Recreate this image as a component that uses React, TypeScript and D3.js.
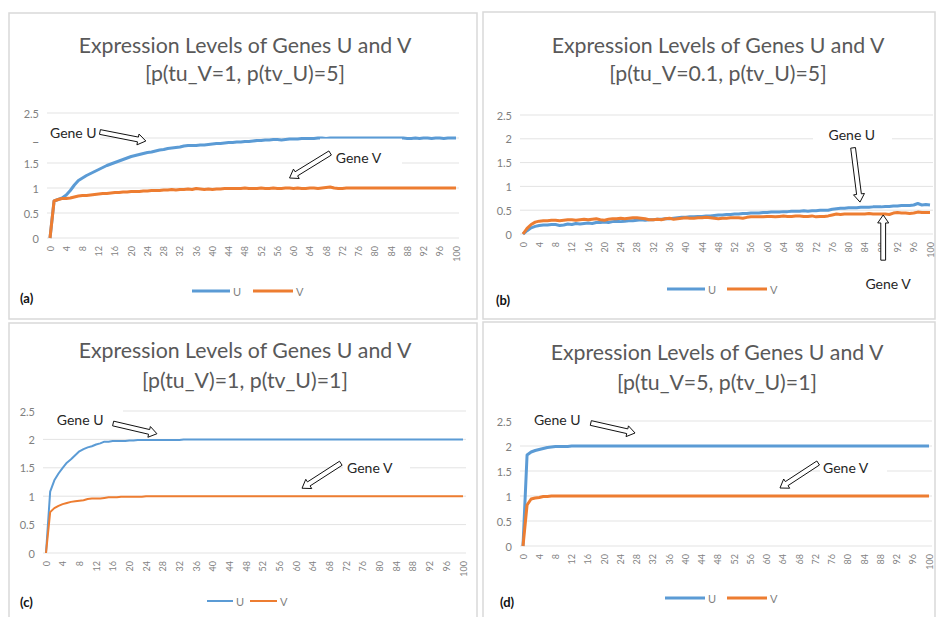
import React from "react";
import * as d3 from "d3";

// ---------- DATA ----------
const TICK_LABELS = ["0","4","8","12","16","20","24","28","32","36","40","44","48","52","56","60","64","68","72","76","80","84","88","92","96","100"];
const Y_TICKS = [0, 0.5, 1, 1.5, 2, 2.5];
const Y_TICK_LABELS = ["0", "0.5", "1", "1.5", "2", "2.5"];
const SERIES_NAMES = ["U", "V"];

const TITLE_LINE1 = "Expression Levels of Genes U and V";
const SUBTITLES = ["[p(tu_V=1, p(tv_U)=5]", "[p(tu_V=0.1, p(tv_U)=5]", "[p(tu_V)=1, p(tv_U)=1]", "[p(tu_V=5, p(tv_U)=1]"];
const PANEL_TAGS = ["(a)", "(b)", "(c)", "(d)"];

const A_U = [
  0, 0.74, 0.77, 0.80, 0.86, 0.95, 1.06, 1.15, 1.20, 1.25,
  1.29, 1.33, 1.37, 1.41, 1.45, 1.48, 1.51, 1.54, 1.57, 1.60,
  1.63, 1.65, 1.67, 1.69, 1.71, 1.72, 1.74, 1.76, 1.77, 1.79,
  1.80, 1.81, 1.82, 1.84, 1.85, 1.85, 1.85, 1.86, 1.86, 1.87,
  1.88, 1.89, 1.89, 1.90, 1.91, 1.91, 1.92, 1.92, 1.93, 1.93,
  1.94, 1.95, 1.95, 1.96, 1.96, 1.97, 1.97, 1.96, 1.97, 1.98,
  1.98, 1.98, 1.99, 1.99, 1.99, 1.99, 2.0, 2.0, 1.99, 2.0,
  2.0, 2.0, 2.0, 2.0, 2.0, 2.0, 2.0, 2.0, 2.0, 2.0,
  2.0, 2.0, 2.0, 2.0, 2.0, 2.0, 2.0, 2.0, 1.99, 1.99,
  2.0, 1.99, 2.0, 2.0, 1.99, 2.0, 2.0, 1.99, 2.0, 2.0,
  2.0,
];
const A_V = [
  0, 0.74, 0.77, 0.79, 0.79, 0.80, 0.82, 0.84, 0.85, 0.85,
  0.86, 0.87, 0.88, 0.89, 0.89, 0.90, 0.91, 0.91, 0.92, 0.92,
  0.93, 0.93, 0.93, 0.94, 0.94, 0.95, 0.95, 0.95, 0.96, 0.96,
  0.97, 0.96, 0.97, 0.97, 0.98, 0.97, 0.99, 0.98, 0.97, 0.98,
  0.97, 0.98, 0.98, 0.99, 0.99, 0.99, 0.99, 0.99, 1.0, 0.99,
  0.99, 0.99, 1.0, 0.99, 0.99, 1.0, 0.99, 0.99, 1.0, 1.0,
  0.99, 1.0, 0.99, 0.99, 1.0, 1.0, 0.99, 1.0, 1.01, 1.02,
  1.0, 0.99, 0.99, 1.0, 1.0, 1.0, 1.0, 1.0, 1.0, 1.0,
  1.0, 1.0, 1.0, 1.0, 1.0, 1.0, 1.0, 1.0, 1.0, 1.0,
  1.0, 1.0, 1.0, 1.0, 1.0, 1.0, 1.0, 1.0, 1.0, 1.0,
  1.0,
];
const B_U = [
  0, 0.07, 0.13, 0.16, 0.18, 0.19, 0.19, 0.20, 0.20, 0.18,
  0.19, 0.21, 0.20, 0.22, 0.21, 0.22, 0.23, 0.22, 0.24, 0.24,
  0.25, 0.24, 0.26, 0.27, 0.26, 0.27, 0.28, 0.28, 0.29, 0.30,
  0.29, 0.30, 0.30, 0.31, 0.31, 0.32, 0.32, 0.33, 0.34, 0.35,
  0.35, 0.36, 0.36, 0.37, 0.37, 0.38, 0.38, 0.39, 0.40, 0.40,
  0.41, 0.41, 0.42, 0.42, 0.43, 0.43, 0.44, 0.44, 0.44, 0.45,
  0.45, 0.46, 0.46, 0.46, 0.47, 0.47, 0.48, 0.48, 0.48, 0.49,
  0.48, 0.49, 0.49, 0.50, 0.50, 0.50, 0.52, 0.53, 0.54, 0.54,
  0.55, 0.55, 0.55, 0.56, 0.56, 0.56, 0.57, 0.57, 0.57, 0.58,
  0.58, 0.59, 0.59, 0.60, 0.60, 0.60, 0.61, 0.64, 0.61, 0.62,
  0.61,
];
const B_V = [
  0, 0.12, 0.20, 0.25, 0.27, 0.28, 0.28, 0.29, 0.29, 0.28,
  0.29, 0.30, 0.30, 0.29, 0.30, 0.31, 0.30, 0.31, 0.32, 0.30,
  0.29, 0.31, 0.32, 0.32, 0.33, 0.32, 0.33, 0.34, 0.34, 0.33,
  0.32, 0.30, 0.30, 0.31, 0.30, 0.32, 0.33, 0.31, 0.32, 0.33,
  0.34, 0.33, 0.33, 0.34, 0.34, 0.35, 0.34, 0.33, 0.32, 0.33,
  0.33, 0.34, 0.34, 0.34, 0.33, 0.35, 0.36, 0.36, 0.36, 0.36,
  0.37, 0.37, 0.36, 0.37, 0.38, 0.37, 0.37, 0.38, 0.38, 0.37,
  0.37, 0.38, 0.36, 0.37, 0.37, 0.38, 0.40, 0.42, 0.41, 0.42,
  0.42, 0.42, 0.42, 0.42, 0.42, 0.43, 0.42, 0.42, 0.42, 0.42,
  0.41, 0.44, 0.45, 0.44, 0.44, 0.43, 0.44, 0.46, 0.45, 0.45,
  0.45,
];
const C_U = [
  0, 1.08, 1.28, 1.40, 1.50, 1.59, 1.65, 1.72, 1.79, 1.83,
  1.86, 1.88, 1.91, 1.93, 1.96, 1.96, 1.97, 1.97, 1.97, 1.97,
  1.98, 1.98, 1.99, 1.99, 1.99, 1.99, 1.99, 1.99, 1.99, 1.99,
  1.99, 1.99, 1.99, 2.0, 2.0, 2.0, 2.0, 2.0, 2.0, 2.0,
  2.0, 2.0, 2.0, 2.0, 2.0, 2.0, 2.0, 2.0, 2.0, 2.0,
  2.0, 2.0, 2.0, 2.0, 2.0, 2.0, 2.0, 2.0, 2.0, 2.0,
  2.0, 2.0, 2.0, 2.0, 2.0, 2.0, 2.0, 2.0, 2.0, 2.0,
  2.0, 2.0, 2.0, 2.0, 2.0, 2.0, 2.0, 2.0, 2.0, 2.0,
  2.0, 2.0, 2.0, 2.0, 2.0, 2.0, 2.0, 2.0, 2.0, 2.0,
  2.0, 2.0, 2.0, 2.0, 2.0, 2.0, 2.0, 2.0, 2.0, 2.0,
  2.0,
];
const C_V = [
  0, 0.72, 0.79, 0.83, 0.86, 0.88, 0.90, 0.91, 0.92, 0.93,
  0.95, 0.96, 0.96, 0.96, 0.97, 0.98, 0.98, 0.98, 0.99, 0.99,
  0.99, 0.99, 0.99, 0.99, 1.0, 1.0, 1.0, 1.0, 1.0, 1.0,
  1.0, 1.0, 1.0, 1.0, 1.0, 1.0, 1.0, 1.0, 1.0, 1.0,
  1.0, 1.0, 1.0, 1.0, 1.0, 1.0, 1.0, 1.0, 1.0, 1.0,
  1.0, 1.0, 1.0, 1.0, 1.0, 1.0, 1.0, 1.0, 1.0, 1.0,
  1.0, 1.0, 1.0, 1.0, 1.0, 1.0, 1.0, 1.0, 1.0, 1.0,
  1.0, 1.0, 1.0, 1.0, 1.0, 1.0, 1.0, 1.0, 1.0, 1.0,
  1.0, 1.0, 1.0, 1.0, 1.0, 1.0, 1.0, 1.0, 1.0, 1.0,
  1.0, 1.0, 1.0, 1.0, 1.0, 1.0, 1.0, 1.0, 1.0, 1.0,
  1.0,
];
const D_U = [
  0, 1.82, 1.88, 1.91, 1.93, 1.95, 1.97, 1.98, 1.99, 1.99,
  1.99, 1.99, 2.0, 2.0, 2.0, 2.0, 2.0, 2.0, 2.0, 2.0,
  2.0, 2.0, 2.0, 2.0, 2.0, 2.0, 2.0, 2.0, 2.0, 2.0,
  2.0, 2.0, 2.0, 2.0, 2.0, 2.0, 2.0, 2.0, 2.0, 2.0,
  2.0, 2.0, 2.0, 2.0, 2.0, 2.0, 2.0, 2.0, 2.0, 2.0,
  2.0, 2.0, 2.0, 2.0, 2.0, 2.0, 2.0, 2.0, 2.0, 2.0,
  2.0, 2.0, 2.0, 2.0, 2.0, 2.0, 2.0, 2.0, 2.0, 2.0,
  2.0, 2.0, 2.0, 2.0, 2.0, 2.0, 2.0, 2.0, 2.0, 2.0,
  2.0, 2.0, 2.0, 2.0, 2.0, 2.0, 2.0, 2.0, 2.0, 2.0,
  2.0, 2.0, 2.0, 2.0, 2.0, 2.0, 2.0, 2.0, 2.0, 2.0,
  2.0,
];
const D_V = [
  0, 0.82, 0.94, 0.96, 0.97, 0.99, 0.99, 1.0, 1.0, 1.0,
  1.0, 1.0, 1.0, 1.0, 1.0, 1.0, 1.0, 1.0, 1.0, 1.0,
  1.0, 1.0, 1.0, 1.0, 1.0, 1.0, 1.0, 1.0, 1.0, 1.0,
  1.0, 1.0, 1.0, 1.0, 1.0, 1.0, 1.0, 1.0, 1.0, 1.0,
  1.0, 1.0, 1.0, 1.0, 1.0, 1.0, 1.0, 1.0, 1.0, 1.0,
  1.0, 1.0, 1.0, 1.0, 1.0, 1.0, 1.0, 1.0, 1.0, 1.0,
  1.0, 1.0, 1.0, 1.0, 1.0, 1.0, 1.0, 1.0, 1.0, 1.0,
  1.0, 1.0, 1.0, 1.0, 1.0, 1.0, 1.0, 1.0, 1.0, 1.0,
  1.0, 1.0, 1.0, 1.0, 1.0, 1.0, 1.0, 1.0, 1.0, 1.0,
  1.0, 1.0, 1.0, 1.0, 1.0, 1.0, 1.0, 1.0, 1.0, 1.0,
  1.0,
];

// annotations in data coordinates: [label, textX, textY, anchor, arrowFromX, arrowFromY, arrowToX, arrowToY]
const ANNOTATIONS_A = [
  ["Gene U", 0, 2.12, "start", 12.3, 2.12, 23.6, 1.94],
  ["Gene V", 70.4, 1.62, "start", 69, 1.7, 59, 1.2],
];
const ANNOTATIONS_B = [
  ["Gene U", 80.8, 2.08, "middle", 81.1, 1.81, 82.8, 0.67],
  ["Gene V", 89.7, -1.03, "middle", 88.5, -0.55, 88.5, 0.4],
];
const ANNOTATIONS_C = [
  ["Gene U", 2.6, 2.35, "start", 16.1, 2.28, 26.6, 2.1],
  ["Gene V", 72.2, 1.51, "start", 70.7, 1.58, 61.4, 1.14],
];
const ANNOTATIONS_D = [
  ["Gene U", 2.7, 2.54, "start", 16.7, 2.46, 27.6, 2.26],
  ["Gene V", 73.9, 1.58, "start", 72.7, 1.66, 63.3, 1.16],
];

// ---------- LAYOUT ----------
const COLORS = ["#5b9bd5", "#ed7d31"];
const FONT = "Lato, 'Open Sans', sans-serif";

const PANELS = [
  { frame: [9, 13, 468, 306], x0: 50, x1: 456, yZero: 238, yTop: 113, titleX: 245, t1: 53, t2: 81,
    legY: 291, legU: [192, 230], legV: [253, 293], tag: [20, 298], lw: 3,
    boxes: [[26, 124, 74, 18], [320, 138.6, 82, 30]], data: [A_U, A_V], ann: ANNOTATIONS_A },
  { frame: [483, 12, 452, 307], x0: 523, x1: 930, yZero: 234, yTop: 115, titleX: 718, t1: 53, t2: 81,
    legY: 289, legU: [667, 705], legV: [727, 767], tag: [496, 300], lw: 3,
    boxes: [[813, 128, 79, 14]], data: [B_U, B_V], ann: ANNOTATIONS_B },
  { frame: [9, 323, 468, 300], x0: 46, x1: 463, yZero: 553, yTop: 411, titleX: 245, t1: 358, t2: 388,
    legY: 601, legU: [207, 233], legV: [250, 277], tag: [20, 602], lw: 2,
    boxes: [[42, 404, 81, 14], [343, 460, 67, 15]], data: [C_U, C_V], ann: ANNOTATIONS_C },
  { frame: [483, 322, 452, 300], x0: 523, x1: 929, yZero: 546, yTop: 421, titleX: 717, t1: 360, t2: 390,
    legY: 598, legU: [665, 705], legV: [727, 767], tag: [500, 602], lw: 3,
    boxes: [[518, 413, 74, 14], [820, 464, 67, 14]], data: [D_U, D_V], ann: ANNOTATIONS_D },
];

function arrowPoints(x1: number, y1: number, x2: number, y2: number) {
  const dx = x2 - x1, dy = y2 - y1;
  const len = Math.hypot(dx, dy);
  const ux = dx / len, uy = dy / len;
  const nx = -uy, ny = ux;
  const sw = 2.4, hw = 5.5, hl = 8;
  const hx = x2 - ux * hl, hy = y2 - uy * hl;
  const pts = [
    [x1 + nx * sw, y1 + ny * sw],
    [hx + nx * sw, hy + ny * sw],
    [hx + nx * hw, hy + ny * hw],
    [x2, y2],
    [hx - nx * hw, hy - ny * hw],
    [hx - nx * sw, hy - ny * sw],
    [x1 - nx * sw, y1 - ny * sw],
  ];
  return pts.map((p) => p.join(",")).join(" ");
}

function Panel({ p, idx }: { p: any; idx: number }) {
  const x = d3.scaleLinear().domain([0, 100]).range([p.x0, p.x1]);
  const y = d3.scaleLinear().domain([0, 2.5]).range([p.yZero, p.yTop]);
  const line = d3.line<number>().x((_, i) => x(i)).y((v) => y(v));
  const [fx, fy, fw, fh] = p.frame;
  return (
    <g>
      <rect x={fx} y={fy} width={fw} height={fh} fill="#fff" stroke="#d9d9d9" strokeWidth={1.5} />
      {Y_TICKS.map((t, i) => (
        <g key={i}>
          <line x1={p.x0 - 3} x2={p.x1 + 3} y1={y(t)} y2={y(t)} stroke="#e3e3e3" strokeWidth={1} />
          <text x={p.x0 - 11} y={y(t)} textAnchor="end" dominantBaseline="central" fontSize={11} fill="#7f7f7f" fontFamily={FONT}>
            {Y_TICK_LABELS[i]}
          </text>
        </g>
      ))}
      {TICK_LABELS.map((l) => (
        <text key={l} transform={`translate(${x(+l)},${p.yZero + 8}) rotate(-90)`} textAnchor="end" dominantBaseline="central"
          fontSize={9} fill="#7f7f7f" fontFamily={FONT}>
          {l}
        </text>
      ))}
      {p.data.map((s: number[], i: number) => (
        <path key={i} d={line(s) || ""} fill="none" stroke={COLORS[i]} strokeWidth={p.lw} strokeLinejoin="round" />
      ))}
      {[p.legU, p.legV].map((seg: number[], i: number) => (
        <g key={i}>
          <line x1={seg[0]} x2={seg[1]} y1={p.legY} y2={p.legY} stroke={COLORS[i]} strokeWidth={p.lw} />
          <text x={seg[1] + 3} y={p.legY} dominantBaseline="central" fontSize={11} fill="#7f7f7f" fontFamily={FONT}>
            {SERIES_NAMES[i]}
          </text>
        </g>
      ))}
      <text x={p.tag[0]} y={p.tag[1]} dominantBaseline="central" fontSize={13} fontWeight="bold" fill="#111" fontFamily={FONT}>
        {PANEL_TAGS[idx]}
      </text>
      <text x={p.titleX} y={p.t1} textAnchor="middle" fontSize={21.3} fill="#595959" fontFamily={FONT}>
        {TITLE_LINE1}
      </text>
      <text x={p.titleX} y={p.t2} textAnchor="middle" fontSize={21.3} fill="#595959" fontFamily={FONT}>
        {SUBTITLES[idx]}
      </text>
      {p.boxes.map((b: number[], i: number) => (
        <rect key={i} x={b[0]} y={b[1]} width={b[2]} height={b[3]} fill="#fff" />
      ))}
      {p.ann.map((a: any[], i: number) => (
        <g key={i}>
          <text x={x(a[1])} y={y(a[2])} textAnchor={a[3]} dominantBaseline="central" fontSize={14} fill="#262626" fontFamily={FONT}>
            {a[0]}
          </text>
          <polygon points={arrowPoints(x(a[4]), y(a[5]), x(a[6]), y(a[7]))} fill="#fff" stroke="#111" strokeWidth={1} />
        </g>
      ))}
    </g>
  );
}

export default function App() {
  return (
    <svg width={938} height={617} style={{ position: "absolute", left: 0, top: 0, background: "#fff" }}>
      <rect x={0} y={0} width={938} height={617} fill="#fff" />
      {PANELS.map((p, i) => (
        <Panel key={i} p={p} idx={i} />
      ))}
    </svg>
  );
}
